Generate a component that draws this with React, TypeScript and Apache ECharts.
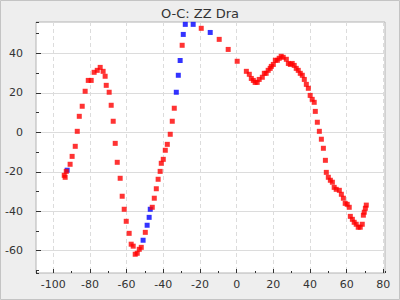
import React, { useEffect, useRef } from "react";
import * as echarts from "echarts";

const title = "O-C: ZZ Dra";

const redX = [-94.0,-93.5,-92.9,-90.8,-89.7,-88.0,-86.9,-85.8,-84.2,-82.6,
  -80.9,-79.3,-77.7,-76.0,-74.4,-72.8,-71.7,-71.1,-69.5,-68.4,
  -67.3,-66.2,-65.1,-63.5,-62.4,-61.3,-60.2,-58.6,-57.5,-56.4,
  -55.3,-54.2,-53.1,-52.0,-49.8,-46.0,-44.9,-43.8,-42.8,-41.7,
  -41.1,-40.0,-38.9,-37.8,-36.2,-35.1,-34.0,-29.7,-19.3,-9.5,
  -4.6,0.3,5.3,6.9,8.0,9.1,10.1,11.2,12.3,14.0,
  15.1,16.1,17.2,18.3,18.9,20.0,21.1,22.2,23.2,24.3,
  25.4,27.1,28.2,29.3,30.3,31.4,32.5,33.6,34.7,35.8,
  36.9,38.0,39.1,40.1,41.2,42.3,42.9,44.0,45.1,46.2,
  47.3,48.4,48.9,50.0,51.1,52.2,53.2,54.3,56.0,57.1,
  58.2,59.2,60.3,61.4,62.0,63.1,64.1,65.2,66.3,67.4,
  68.5,69.1,69.6,70.2,70.7];
const redY = [-21.8,-22.8,-19.8,-16.2,-12.2,-7.1,0.5,8.1,13.2,20.8,
  26.3,26.3,30.4,31.4,32.9,30.9,28.4,23.8,20.3,13.7,
  5.6,-5.6,-15.2,-23.3,-32.4,-39.0,-45.1,-51.2,-56.7,-57.7,
  -61.8,-61.3,-59.3,-58.3,-50.7,-38.0,-33.4,-28.6,-23.8,-19.8,
  -15.7,-13.7,-9.1,-6.1,-1.0,5.6,12.2,44.1,52.7,47.1,
  42.0,36.0,30.9,29.4,27.3,26.3,25.3,25.3,26.8,27.9,
  29.9,29.9,31.4,32.4,33.4,34.4,36.5,36.5,37.5,38.5,
  38.0,37.0,34.9,34.4,34.9,33.9,32.4,31.4,29.9,28.9,
  26.8,24.3,22.3,18.7,16.7,15.2,10.6,5.1,0.5,-3.5,
  -8.1,-14.2,-20.3,-22.8,-24.3,-25.3,-27.9,-28.9,-29.4,-31.4,
  -33.4,-36.0,-36.5,-38.0,-42.6,-44.1,-45.6,-46.6,-48.1,-48.1,
  -46.6,-42.0,-40.5,-38.5,-36.9];

const blueX = [-92.4,-51.0,-48.8,-47.7,-47.1,-32.9,-31.8,-30.8,-29.1,-28.0,-23.7,-14.4];
const blueY = [-19.2,-54.7,-47.1,-43.1,-39.0,20.3,28.9,36.4,49.6,54.7,54.7,50.6];

const xMin = -109.4;
const xMax = 80.9;
const yMin = -71.3;
const yMax = 55.9;
const majorStep = 20;
const minorStep = 10;

const FONT = "DejaVu Sans";

function majorLabel(v: number) {
  return Math.abs(v % majorStep) < 1e-6 ? String(Math.round(v)) : "";
}

export default function App() {
  const ref = useRef<HTMLDivElement>(null);
  useEffect(() => {
    if (!ref.current) return;
    const chart = echarts.init(ref.current, null, { renderer: "svg" });
    const red = redX.map((x, i) => [x, redY[i]]);
    const blue = blueX.map((x, i) => [x, blueY[i]]);
    const tickColor = "#333";
    chart.setOption({
      animation: false,
      backgroundColor: "#eeeeee",
      textStyle: { fontFamily: FONT },
      title: {
        text: title,
        left: "center",
        top: 2,
        textStyle: { fontFamily: FONT, fontSize: 13, fontWeight: "normal", color: "#333" },
      },
      graphic: [
        {
          type: "rect",
          shape: { x: 0.5, y: 0.5, width: 399, height: 299 },
          style: { fill: "none", stroke: "#c4c4c4", lineWidth: 1 },
          silent: true,
        },
      ],
      grid: {
        left: 36,
        right: 15,
        top: 22,
        bottom: 27,
        show: true,
        backgroundColor: "#ffffff",
        borderColor: "#b4b4b4",
        borderWidth: 1,
      },
      xAxis: [
        {
          type: "value",
          min: xMin,
          max: xMax,
          minInterval: majorStep,
          maxInterval: majorStep,
          position: "bottom",
          axisLine: { show: false, onZero: false },
          axisTick: { show: true, inside: true, length: 4, lineStyle: { color: tickColor } },
          axisLabel: {
            formatter: majorLabel,
            color: "#333",
            fontSize: 11,
            fontFamily: FONT,
            margin: 6,
            showMinLabel: false,
            showMaxLabel: false,
          },
          splitLine: {
            show: true,
            showMinLine: false,
            showMaxLine: false,
            lineStyle: { color: "#dcdcdc", type: [4, 3] },
          },
        },
        {
          type: "value",
          min: xMin,
          max: xMax,
          minInterval: minorStep,
          maxInterval: minorStep,
          position: "bottom",
          axisLine: { show: false, onZero: false },
          axisTick: { show: true, inside: true, length: 2, lineStyle: { color: tickColor } },
          axisLabel: { show: false },
          splitLine: { show: false },
        },
      ],
      yAxis: [
        {
          type: "value",
          min: yMin,
          max: yMax,
          minInterval: majorStep,
          maxInterval: majorStep,
          position: "left",
          axisLine: { show: false, onZero: false },
          axisTick: { show: true, inside: true, length: 5, lineStyle: { color: tickColor } },
          axisLabel: {
            formatter: majorLabel,
            color: "#333",
            fontSize: 11,
            fontFamily: FONT,
            margin: 13,
            showMinLabel: false,
            showMaxLabel: false,
          },
          splitLine: {
            show: true,
            showMinLine: false,
            showMaxLine: false,
            lineStyle: { color: "#dcdcdc", type: "solid" },
          },
        },
        {
          type: "value",
          min: yMin,
          max: yMax,
          minInterval: minorStep,
          maxInterval: minorStep,
          position: "left",
          axisLine: { show: false, onZero: false },
          axisTick: { show: true, inside: true, length: 3, lineStyle: { color: tickColor } },
          axisLabel: { show: false },
          splitLine: { show: false },
        },
      ],
      series: [
        {
          type: "scatter",
          name: "blue",
          xAxisIndex: 0,
          yAxisIndex: 0,
          data: blue,
          symbol: "rect",
          symbolSize: 5,
          itemStyle: { color: "#0000ff" },
          clip: true,
        },
        {
          type: "scatter",
          name: "red",
          xAxisIndex: 0,
          yAxisIndex: 0,
          data: red,
          symbol: "rect",
          symbolSize: 5,
          itemStyle: { color: "#ff0000" },
          clip: true,
        },
      ],
    });
    return () => chart.dispose();
  }, []);
  return (
    <div
      ref={ref}
      style={{ position: "fixed", left: 0, top: 0, width: 400, height: 300 }}
    />
  );
}
